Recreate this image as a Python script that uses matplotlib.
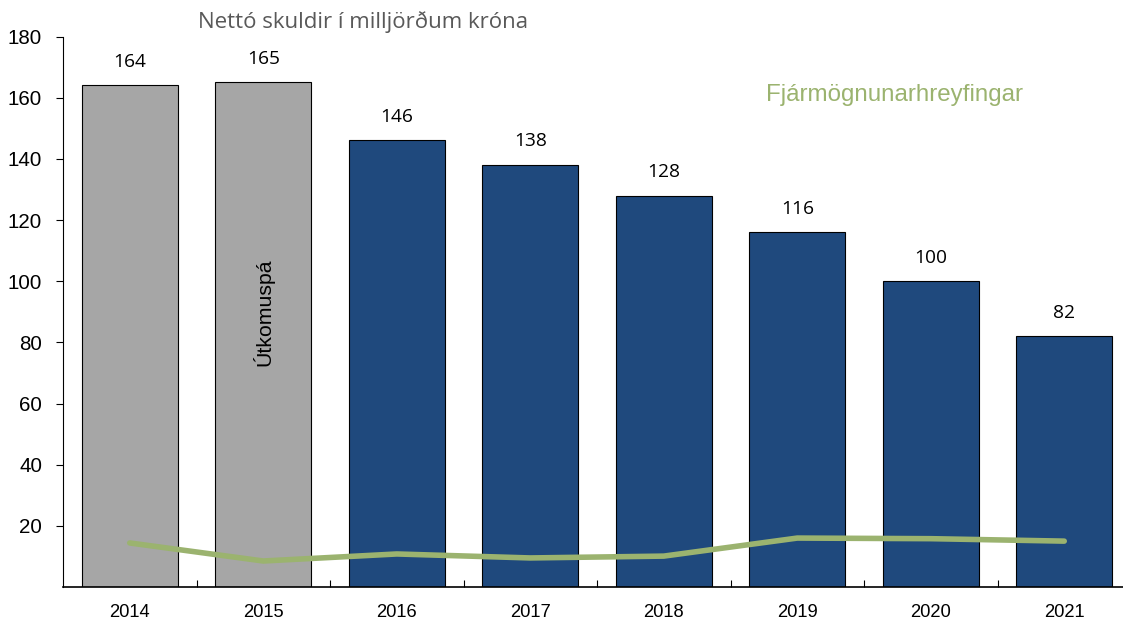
import matplotlib.pyplot as plt
import numpy as np

# ====== DATA ======
years = ["2014", "2015", "2016", "2017", "2018", "2019", "2020", "2021"]
net_debt = [164, 165, 146, 138, 128, 116, 100, 82]
financing = [14.4, 8.5, 10.8, 9.5, 10.1, 16.0, 15.8, 15.0]
bar_colors = ["#A6A6A6", "#A6A6A6", "#1F497D", "#1F497D",
              "#1F497D", "#1F497D", "#1F497D", "#1F497D"]
yticks = [20, 40, 60, 80, 100, 120, 140, 160, 180]

# ====== FIGURE ======
fig = plt.figure(figsize=(11.23, 6.21), dpi=100)
ax = fig.add_axes([63 / 1123, 34 / 621, 1068 / 1123, 550.5 / 621])

x = np.arange(len(years))
ax.bar(x, net_debt, width=0.72, color=bar_colors, edgecolor="black", linewidth=0.8, zorder=2)
ax.plot(x, financing, color="#9BB36F", linewidth=4, solid_capstyle="round",
        solid_joinstyle="round", zorder=3)

for xi, v in zip(x, net_debt):
    ax.annotate(str(v), (xi, v), xytext=(0, 17), textcoords="offset points",
                ha="center", va="center", fontsize=13.8, family="Open Sans")

ax.text(1, 90, "Útkomuspá", rotation=90, ha="center", va="center",
        fontsize=15.3, family="Liberation Sans")
ax.text(5.73, 161, "Fjármögnunarhreyfingar", color="#9BB36F", ha="center", va="center",
        fontsize=17.4, family="Liberation Sans")
fig.text(363 / 1123, 1 - 22 / 621, "Nettó skuldir í milljörðum króna", color="#595959",
         ha="center", va="center", fontsize=16, family="Open Sans")

ax.set_xlim(-0.5, 7.5)
ax.set_ylim(0, 180)
ax.set_yticks(yticks)
ax.set_xticks(x)
ax.set_xticklabels(years)
ax.set_xticks(x[:-1] + 0.5, minor=True)
ax.tick_params(axis="x", which="major", length=0, pad=12, labelsize=13.2)
ax.tick_params(axis="x", which="minor", direction="in", length=5, width=0.8)
ax.tick_params(axis="y", direction="out", length=5, width=0.8, pad=10, labelsize=14.8)
for lbl in ax.get_xticklabels() + ax.get_yticklabels():
    lbl.set_family("Liberation Sans")

ax.spines["top"].set_visible(False)
ax.spines["right"].set_visible(False)
ax.spines["left"].set_linewidth(0.8)
ax.spines["bottom"].set_linewidth(1.2)

fig.savefig("out.png", dpi=100)
